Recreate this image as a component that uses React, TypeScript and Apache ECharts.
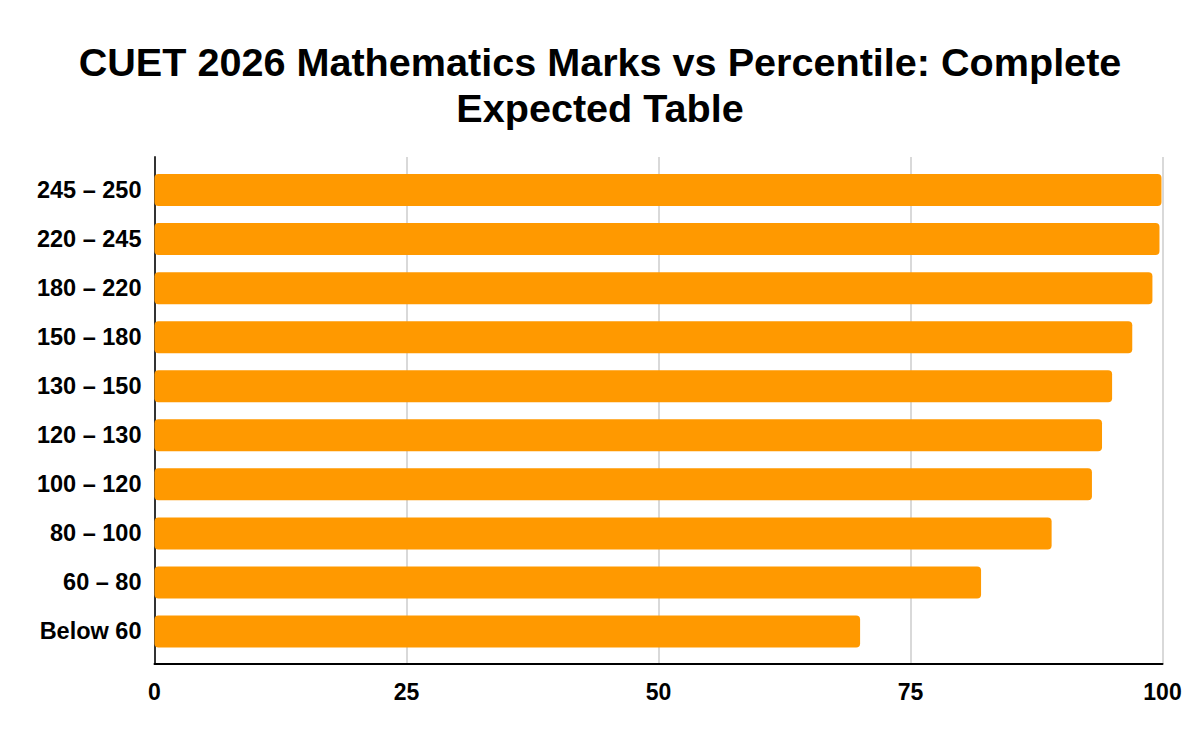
import { useEffect, useRef } from 'react'
import * as echarts from 'echarts'

const TITLE = 'CUET 2026 Mathematics Marks vs Percentile: Complete\nExpected Table'
const categories = ['245 – 250', '220 – 245', '180 – 220', '150 – 180', '130 – 150', '120 – 130', '100 – 120', '80 – 100', '60 – 80', 'Below 60']
const percentile = [99.9, 99.7, 99, 97, 95, 94, 93, 89, 82, 70]
const xTicks = [0, 25, 50, 75, 100]

const FONT = '"Liberation Sans", Arial, sans-serif'

export default function App() {
  const ref = useRef<HTMLDivElement>(null)

  useEffect(() => {
    if (!ref.current) return
    const chart = echarts.init(ref.current, undefined, { renderer: 'svg' })
    chart.setOption({
      animation: false,
      backgroundColor: '#fff',
      textStyle: { fontFamily: FONT },
      title: {
        text: TITLE,
        left: 595,
        top: 34,
        textAlign: 'center',
        textStyle: { fontFamily: FONT, fontSize: 39.6, fontWeight: 'bold', color: '#000', lineHeight: 46 },
      },
      grid: [
        // bars
        { left: 154.5, right: 37.5, top: 165.5, bottom: 86 },
        // frame: gridlines and axis lines span a bit more than the bars
        { left: 154.5, right: 37.5, top: 157, bottom: 78 },
      ],
      xAxis: [
        { gridIndex: 0, type: 'value', min: 0, max: 100, show: false },
        {
          gridIndex: 1, type: 'value', min: 0, max: 100, interval: 25,
          axisLine: { show: true, lineStyle: { color: '#000', width: 2 } },
          axisTick: { show: false },
          splitLine: { show: true, lineStyle: { color: '#cccccc', width: 1.5 } },
          axisLabel: {
            color: '#000', fontSize: 23, fontWeight: 'bold', fontFamily: FONT, margin: 16,
            formatter: (v: number) => (xTicks.includes(v) ? String(v) : ''),
          },
        },
      ],
      yAxis: [
        {
          gridIndex: 0, type: 'category', data: categories, inverse: true,
          axisLine: { show: false }, axisTick: { show: false },
          axisLabel: { color: '#000', fontSize: 23.5, fontWeight: 'bold', fontFamily: FONT, margin: 13 },
        },
        {
          gridIndex: 1, type: 'value', min: 0, max: 1,
          axisLine: { show: true, lineStyle: { color: '#333', width: 2 } },
          axisTick: { show: false }, axisLabel: { show: false }, splitLine: { show: false },
        },
      ],
      series: [
        {
          type: 'bar', xAxisIndex: 0, yAxisIndex: 0, data: percentile,
          barWidth: 32, z: 3,
          itemStyle: { color: '#FF9900', borderRadius: 4 },
        },
      ],
    })
    return () => chart.dispose()
  }, [])

  return <div ref={ref} style={{ position: 'absolute', left: 0, top: 0, width: 1200, height: 742 }} />
}
